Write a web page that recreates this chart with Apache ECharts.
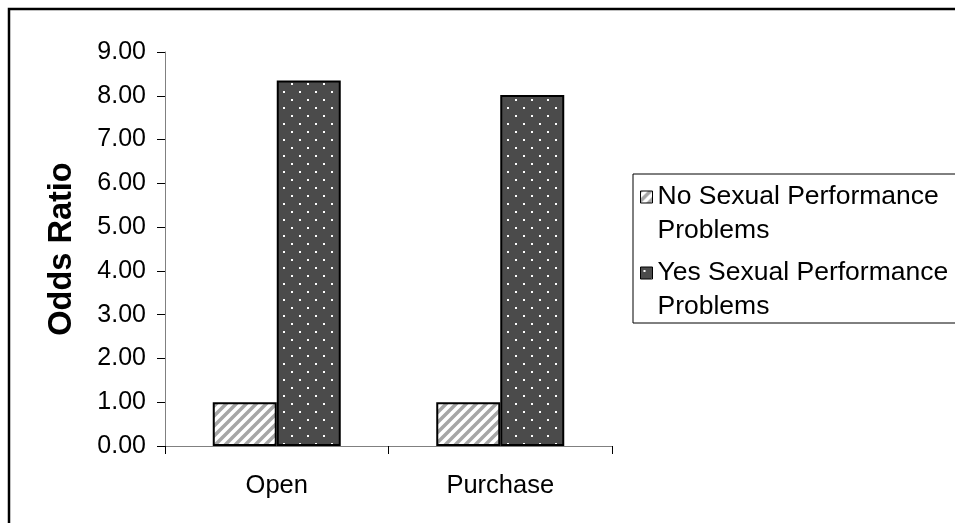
<!DOCTYPE html>
<html>
<head>
<meta charset="utf-8">
<script src="https://cdn.jsdelivr.net/npm/echarts@6/dist/echarts.min.js"></script>
<style>
  html, body { margin: 0; padding: 0; background: #fff; }
  #chart { width: 955px; height: 523px; }
</style>
</head>
<body>
<div id="chart"></div>
<script>
// ========== 数据 ==========
const categories = ["Open", "Purchase"];
const seriesNames = [
  "No Sexual Performance\nProblems",
  "Yes Sexual Performance\nProblems",
];
const noProblems = [1.0, 1.0];
const yesProblems = [8.35, 8.02];

// ========== 填充图案 ==========
function hatchPattern() {
  const c = document.createElement("canvas");
  c.width = 10;
  c.height = 10;
  const g = c.getContext("2d");
  g.fillStyle = "#fff";
  g.fillRect(0, 0, 10, 10);
  g.strokeStyle = "#a6a6a6";
  g.lineWidth = 3.5;
  g.beginPath();
  g.moveTo(-5, 5); g.lineTo(5, -5);
  g.moveTo(0, 10); g.lineTo(10, 0);
  g.moveTo(5, 15); g.lineTo(15, 5);
  g.stroke();
  return c;
}

function dotPattern() {
  const c = document.createElement("canvas");
  c.width = 16;
  c.height = 16;
  const g = c.getContext("2d");
  g.fillStyle = "#4b4b4b";
  g.fillRect(0, 0, 16, 16);
  g.fillStyle = "#fff";
  g.fillRect(3, 3, 2, 2);
  g.fillRect(11, 11, 2, 2);
  return c;
}

const font = "'Liberation Sans', Arial, sans-serif";
const chart = echarts.init(document.getElementById("chart"));

// 图例: 空首行让图标对齐到第一行文字
const legendBase = {
  orient: "vertical",
  left: 640,
  padding: 0,
  itemWidth: 12,
  itemHeight: 12,
  icon: "rect",
  itemStyle: { borderColor: "#000", borderWidth: 1 },
  formatter: (name) => "\n" + name,
  textStyle: {
    fontFamily: font,
    fontSize: 26.5,
    lineHeight: 34,
    color: "#000",
  },
};

chart.setOption({
  animation: false,
  backgroundColor: "#fff",
  grid: { left: 165, right: 343, top: 52, bottom: 77 },
  legend: [
    Object.assign({}, legendBase, { top: 146, data: [seriesNames[0]] }),
    Object.assign({}, legendBase, { top: 222, data: [seriesNames[1]] }),
  ],
  xAxis: {
    type: "category",
    data: categories,
    axisLine: { lineStyle: { color: "#808080", width: 1 } },
    axisTick: { show: true, length: 8, lineStyle: { color: "#000" } },
    axisLabel: { fontFamily: font, fontSize: 25.5, color: "#000", margin: 27 },
  },
  yAxis: {
    type: "value",
    min: 0,
    max: 9,
    interval: 1,
    name: "Odds Ratio",
    nameLocation: "middle",
    nameGap: 86,
    nameTextStyle: {
      fontFamily: font,
      fontSize: 32.5,
      fontWeight: "bold",
      color: "#000",
    },
    axisLine: { show: true, lineStyle: { color: "#808080", width: 1 } },
    axisTick: { show: true, length: 8, lineStyle: { color: "#000" } },
    splitLine: { show: false },
    axisLabel: {
      fontFamily: font,
      fontSize: 25,
      color: "#000",
      margin: 19,
      formatter: (v) => v.toFixed(2),
    },
  },
  series: [
    {
      name: seriesNames[0],
      type: "bar",
      data: noProblems,
      barWidth: 64,
      barGap: "0%",
      itemStyle: {
        color: { image: hatchPattern(), repeat: "repeat" },
        borderColor: "#000",
        borderWidth: 2,
      },
    },
    {
      name: seriesNames[1],
      type: "bar",
      data: yesProblems,
      barWidth: 64,
      itemStyle: {
        color: { image: dotPattern(), repeat: "repeat" },
        borderColor: "#000",
        borderWidth: 2,
      },
    },
  ],
  graphic: [
    {
      type: "rect",
      shape: { x: 9, y: 9, width: 960, height: 530 },
      style: { fill: "none", stroke: "#000", lineWidth: 2.5 },
      silent: true,
    },
    {
      type: "rect",
      shape: { x: 633, y: 174, width: 330, height: 149 },
      style: { fill: "none", stroke: "#000", lineWidth: 1 },
      silent: true,
    },
  ],
});

window.addEventListener("resize", () => chart.resize());
</script>
</body>
</html>
